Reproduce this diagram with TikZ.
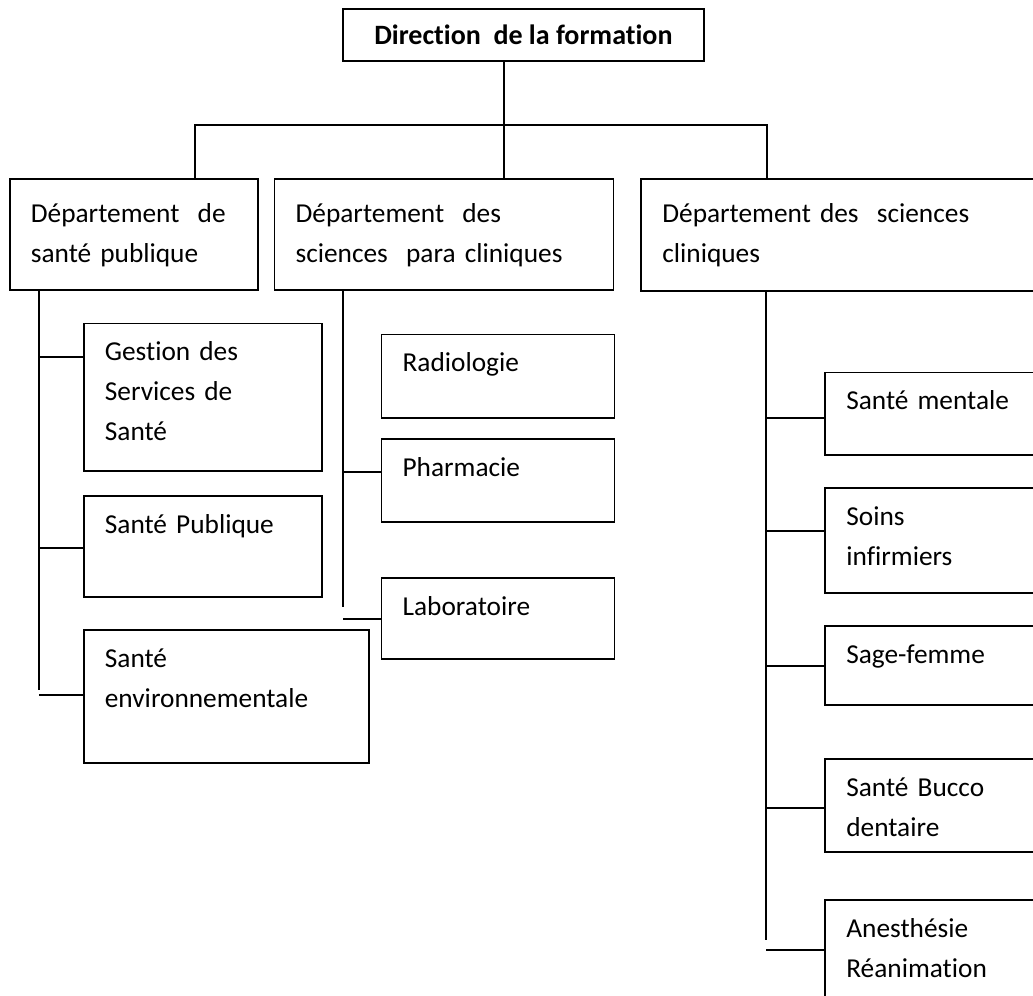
\documentclass[tikz,border=0pt]{standalone}
\usepackage{fontspec}
\setmainfont{Carlito}[Ligatures=CommonOff]
\usetikzlibrary{positioning,calc}

\begin{document}
\begin{tikzpicture}[
    x=0.75pt, y=-0.75pt,
    line width=1.3pt,
    font=\fontsize{20.5}{30}\selectfont,
    head/.style={draw, anchor=north west, minimum width=270.75pt, minimum height=39pt, inner sep=0pt, font=\fontsize{21}{30}\selectfont\bfseries},
    unit/.style 2 args={draw, anchor=north west, align=left, inner xsep=15.75pt, inner ysep=0pt, text height=28pt, text width=#1, text depth=#2},
    dept/.style 2 args={unit={#1}{#2}, text height=33pt}
]
\useasboundingbox (0,0) rectangle (1033,996);

% Direction
\node[head] (dir) at (342,8) {Direction~ de la formation};

% Departments
\node[dept={154.5pt}{50.25pt}] (dsp) at (9,178) {Département~ de\\santé publique};
\node[right=11.25pt of dsp.north east, dept={222.75pt}{50.25pt}] (dspc) {Département~ des\\sciences~ para cliniques};
\node[right=19.5pt of dspc.north east, dept={291pt}{51pt}] (dsc) {Département des~ sciences\\cliniques};

% Sante publique units
\node[below right=24pt and 55.5pt of dsp.south west, unit={147pt}{82.5pt}] (gss) {Gestion des\\Services de\\Santé};
\node[below=17.25pt of gss.south west, unit={147pt}{48pt}] (sp) {Santé Publique};
\node[below=23.25pt of sp.south west, unit={182.25pt}{72pt}] (se) {Santé\\environnementale};

% Para cliniques units
\node[below right=32.25pt and 80.25pt of dspc.south west, unit={143.25pt}{34.5pt}] (radio) {Radiologie};
\node[below=14.25pt of radio.south west, unit={143.25pt}{34.5pt}] (pharma) {Pharmacie};
\node[below=40.5pt of pharma.south west, unit={143.25pt}{33pt}] (labo) {Laboratoire};

% Cliniques units
\node[below right=60pt and 138pt of dsc.south west, unit={148.5pt}{33.75pt}] (sm) {Santé mentale};
\node[below=23.25pt of sm.south west, unit={148.5pt}{51pt}] (si) {Soins\\infirmiers};
\node[below=23.25pt of si.south west, unit={148.5pt}{31.5pt}] (sf) {Sage-femme};
\node[below=39pt of sf.south west, unit={148.5pt}{42pt}] (sbd) {Santé Bucco\\dentaire};
\node[below=34.5pt of sbd.south west, unit={148.5pt}{69.75pt}] (ar) {Anesthésie\\Réanimation};

% Bus
\coordinate (hub) at (504,125);
\coordinate (busl) at (195,125);
\coordinate (busr) at (767,125);
\draw (hub |- dir.south) -- (hub |- dspc.north);
\draw (busl |- dsp.north) -- (busl) -- (busr) -- (busr |- dsc.north);

% Trunks
\coordinate (trl) at (39,690);
\coordinate (trm) at (343,607);
\coordinate (trr) at (766,940);
\draw (trl |- dsp.south) -- (trl);
\draw (trm |- dspc.south) -- (trm);
\draw (trr |- dsc.south) -- (trr);

% Taps
\foreach \n/\dy in {gss/34, sp/53, se/66}
  \draw (\n.north west) ++(0,\dy) coordinate (tap) -- (tap -| trl);
\foreach \n/\dy in {pharma/34, labo/42}
  \draw (\n.north west) ++(0,\dy) coordinate (tap) -- (tap -| trm);
\foreach \n/\dy in {sm/46, si/44, sf/41, sbd/50, ar/51}
  \draw (\n.north west) ++(0,\dy) coordinate (tap) -- (tap -| trr);

\end{tikzpicture}
\end{document}
